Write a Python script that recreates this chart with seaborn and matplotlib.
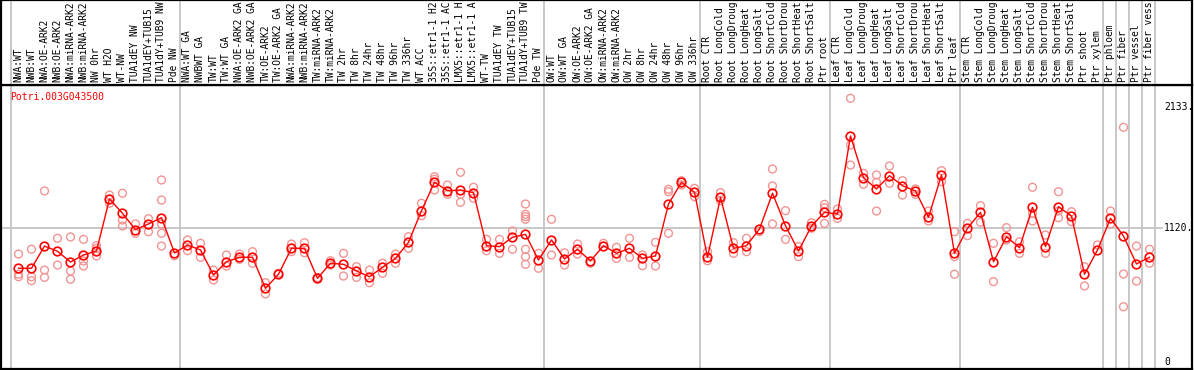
import numpy as np
import pandas as pd
import matplotlib
matplotlib.use("Agg")
import matplotlib.pyplot as plt
import matplotlib.transforms as mtransforms
import seaborn as sns

gene = "Potri.003G043500"

# column labels as they appear (the header cuts them at 14 characters)
labels = [
    "NWA:WT", "NWB:WT", "NWA:OE-ARK2", "NWB:OE-ARK2", "NWA:miRNA-ARK2", "NWB:miRNA-ARK2",
    "NW 0hr", "WT H2O", "WT-NW", "TUA1dEY NW", "TUA1dEY+TUB15", "TUA1dY+TUB9 NW", "Pde NW",
    "NWA:WT GA", "NWBWT GA", "TW:WT", "TW:WT GA", "NWA:OE-ARK2 GA", "NWB:OE-ARK2 GA",
    "TW:OE-ARK2", "TW:OE-ARK2 GA", "NWA:miRNA-ARK2", "NWB:miRNA-ARK2", "TW:miRNA-ARK2",
    "TW:miRNA-ARK2", "TW 2hr", "TW 8hr", "TW 24hr", "TW 48hr", "TW 96hr", "TW 336hr", "WT ACC",
    "35S::etr1-1 H2", "35S::etr1-1 AC", "LMX5::etr1-1 H", "LMX5::etr1-1 A", "WT-TW",
    "TUA1dEY TW", "TUA1dEY+TUB15", "TUA1dY+TUB9 TW", "Pde TW",
    "OW:WT", "OW:WT GA", "OW:OE-ARK2", "OW:OE-ARK2 GA", "OW:miRNA-ARK2", "OW:miRNA-ARK2",
    "OW 2hr", "OW 8hr", "OW 24hr", "OW 48hr", "OW 96hr", "OW 336hr",
    "Root CTR", "Root LongCold", "Root LongDroug", "Root LongHeat", "Root LongSalt",
    "Root ShortCold", "Root ShortDrou", "Root ShortHeat", "Root ShortSalt", "Ptr root",
    "Leaf CTR", "Leaf LongCold", "Leaf LongDroug", "Leaf LongHeat", "Leaf LongSalt",
    "Leaf ShortCold", "Leaf ShortDrou", "Leaf ShortHeat", "Leaf ShortSalt", "Ptr leaf",
    "Stem CTR", "Stem LongCold", "Stem LongDroug", "Stem LongHeat", "Stem LongSalt",
    "Stem ShortCold", "Stem ShortDrou", "Stem ShortHeat", "Stem ShortSalt", "Ptr shoot",
    "Ptr xylem", "Ptr phloem", "Ptr fiber", "Ptr vessel", "Ptr fiber vess",
]

means = [
    783, 783, 969, 925, 835, 894, 928, 1363, 1243, 1106, 1154, 1206, 911,
    978, 936, 727, 838, 875, 875, 615, 733, 950, 950, 699, 825, 816, 760, 712, 791, 866,
    1000, 1265, 1503, 1432, 1438, 1416, 972, 964, 1042, 1067, 852,
    1020, 861, 942, 844, 972, 908, 950, 866, 886, 1321, 1503, 1419,
    875, 1377, 950, 972, 1112, 1411, 1139, 928, 1137, 1251,
    1237, 1890, 1541, 1447, 1558, 1474, 1430, 1210, 1564, 908,
    1118, 1251, 838, 1047, 955, 1293, 964, 1298, 1220, 733, 936,
    1201, 1053, 819, 875,
]

replicates = [
    [902, 733, 712], [942, 712, 679], [1430, 768, 707], [1034, 810], [1045, 760, 691],
    [1025, 844, 802], [972, 950, 886], [1396, 1327], [1411, 1187, 1137], [1154, 1076],
    [1198, 1089], [1522, 1354, 1154, 1076, 969], [888],
    [1020, 930], [992, 875], [768, 685], [894, 802], [902, 858], [922, 825], [662, 568],
    [741], [986, 922], [997, 913], [705, 695], [846, 810], [908, 718], [796, 707],
    [768, 662], [825, 741], [902, 825], [1047, 950], [1327, 1223], [1549, 1528, 1438],
    [1480, 1402], [1586, 1402, 1335], [1461, 1369], [1025, 930], [1025, 908], [1095, 942],
    [1321, 1235, 1215, 1193, 942, 880, 816], [908, 783],
    [1193, 894], [913, 810], [986, 902], [825], [992], [958, 866], [1034, 875], [894, 804],
    [1000, 802], [1444, 1424, 1076], [1516, 1480], [1452, 1382],
    [922, 846], [1416, 1349], [997, 908], [1034, 922], [1089], [1614, 1472, 1154],
    [1265, 1025], [964, 880], [1164, 1118], [1318, 1290, 1159],
    [1279, 1201], [2206, 1815, 1647], [1578, 1486], [1564, 1503, 1262], [1639, 1494],
    [1516, 1396], [1447, 1402], [1262, 1179], [1600, 1508], [1089, 880, 733],
    [1159, 1056], [1307, 1168], [992, 671], [1123, 1020], [1005, 908], [1461, 1243, 1179],
    [1061, 908], [1424, 1262, 1206], [1256, 1173], [796, 635], [978],
    [1262, 1154], [1963, 735, 461], [969, 676], [942, 825],
]

axis_values = [2133, 1120, 0]
group_starts = [0, 13, 41, 53, 63, 73, 84, 85, 86, 87, 88]

# ---------------------------------------------------------------
W, H = 1194, 370
fig = plt.figure(figsize=(W / 100, H / 100), dpi=100)


def fr(x0, y0, x1, y1):
    return [x0 / W, 1 - y1 / H, (x1 - x0) / W, (y1 - y0) / H]


ax = fig.add_axes(fr(1, 85, 1192, 369))
hax = fig.add_axes(fr(1, 0, 1192, 85))

xlim = (-1.346, -1.346 + 1191 / 13.0)
ylo = -(369 - 361.8) / 0.11946
yhi = (361.8 - 85) / 0.11946

mono = "DejaVu Sans Mono"
grid_c = "#c4c4c4"
rep_c = "#f29494"

rep_x, rep_y = [], []
for i, reps in enumerate(replicates):
    for v in reps:
        rep_x.append(i)
        rep_y.append(v)
df_rep = pd.DataFrame({"x": rep_x, "y": rep_y})
df_mean = pd.DataFrame({"x": np.arange(len(means)), "y": means})

for a in (ax, hax):
    a.set_xlim(*xlim)
    for b in group_starts:
        a.axvline(b - 0.6, color=grid_c, lw=1.3, zorder=0)
    a.set_xticks([])
    a.set_yticks([])
    for s in a.spines.values():
        s.set_color("black")
        s.set_linewidth(1.6)

ax.set_ylim(ylo, yhi)
ax.axhline(1120, xmin=0, xmax=(1162 - 1) / 1191, color=grid_c, lw=1.3, zorder=0)

sns.scatterplot(data=df_rep, x="x", y="y", ax=ax, marker="o", s=32,
                facecolor="none", edgecolor=rep_c, linewidth=1.0, zorder=2,
                legend=False)
sns.lineplot(data=df_mean, x="x", y="y", ax=ax, color="red", lw=1.0,
             marker="o", markersize=6.2, markerfacecolor="none",
             markeredgecolor="red", markeredgewidth=1.2, zorder=3, legend=False)
ax.set_xlabel("")
ax.set_ylabel("")

ax.text(9 / 1191, 1 - (97 - 85) / 284, gene, transform=ax.transAxes,
        color="red", family=mono, fontsize=7, ha="left", va="center")

tr = mtransforms.blended_transform_factory(ax.transAxes, ax.transData)
for v in axis_values:
    txt = f"{v}." if v != 0 else "0"
    ax.text((1164 - 1) / 1191, v, txt, transform=tr, family=mono, fontsize=7,
            ha="left", va="center", color="black")

hax.set_ylim(0, 85)
for i, lab in enumerate(labels):
    hax.text(i, 2.5, lab, rotation=90, ha="center", va="bottom", family=mono,
             fontsize=6.9, color="black")

fig.savefig("out.png", dpi=100)
